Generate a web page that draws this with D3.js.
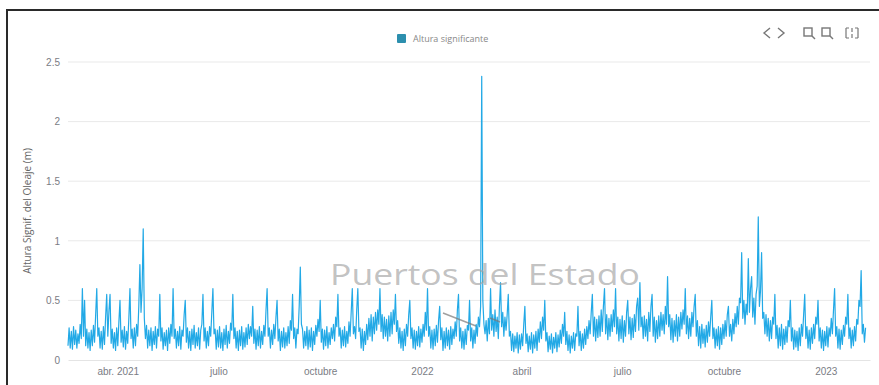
<!DOCTYPE html>
<html>
<head>
<meta charset="utf-8">
<script src="https://cdn.jsdelivr.net/npm/d3@7"></script>
<style>
  html, body { margin: 0; padding: 0; background: #fff; }
  svg { display: block; font-family: "Open Sans", "Noto Sans", sans-serif; }
</style>
</head>
<body>
<svg id="chart" width="879" height="385"></svg>
<script>
// Daily significant wave height (m), starting 15 Feb 2021
const seriesName = "Altura significante";
const startDate = new Date(2021, 1, 15);
const waveHeight = [
  0.12,0.27,0.1,0.24,0.09,0.28,0.13,0.25,0.1,0.22,
  0.14,0.3,0.18,0.6,0.2,0.5,0.12,0.26,0.1,0.23,
  0.08,0.25,0.12,0.29,0.15,0.38,0.6,0.2,0.27,0.1,
  0.24,0.09,0.28,0.13,0.36,0.55,0.2,0.41,0.55,0.14,
  0.26,0.1,0.23,0.08,0.27,0.12,0.32,0.5,0.15,0.25,
  0.11,0.28,0.09,0.24,0.14,0.35,0.6,0.18,0.26,0.1,
  0.27,0.12,0.3,0.2,0.45,0.8,0.4,0.6,1.1,0.35,
  0.18,0.29,0.1,0.25,0.12,0.27,0.08,0.24,0.13,0.28,
  0.1,0.26,0.2,0.55,0.16,0.27,0.09,0.23,0.12,0.25,
  0.08,0.27,0.14,0.3,0.2,0.6,0.18,0.26,0.1,0.24,
  0.12,0.28,0.09,0.25,0.2,0.38,0.5,0.15,0.27,0.1,
  0.24,0.08,0.26,0.13,0.29,0.1,0.23,0.12,0.27,0.09,
  0.25,0.3,0.55,0.16,0.27,0.1,0.24,0.12,0.28,0.2,
  0.4,0.6,0.22,0.26,0.09,0.25,0.11,0.28,0.1,0.23,
  0.08,0.26,0.13,0.29,0.1,0.24,0.14,0.31,0.25,0.55,
  0.18,0.27,0.1,0.24,0.08,0.25,0.12,0.28,0.09,0.23,
  0.11,0.27,0.13,0.3,0.18,0.28,0.2,0.45,0.14,0.26,
  0.09,0.25,0.12,0.28,0.1,0.24,0.13,0.29,0.2,0.42,
  0.6,0.2,0.27,0.1,0.25,0.13,0.3,0.18,0.36,0.5,
  0.16,0.26,0.08,0.24,0.11,0.27,0.1,0.23,0.12,0.28,
  0.14,0.33,0.25,0.55,0.18,0.27,0.1,0.26,0.22,0.45,
  0.78,0.3,0.26,0.1,0.24,0.12,0.28,0.09,0.25,0.11,
  0.27,0.08,0.24,0.13,0.29,0.2,0.34,0.24,0.5,0.15,
  0.26,0.09,0.25,0.12,0.28,0.1,0.23,0.13,0.27,0.18,
  0.3,0.16,0.36,0.28,0.55,0.2,0.27,0.1,0.25,0.12,
  0.28,0.11,0.24,0.14,0.32,0.2,0.4,0.6,0.22,0.28,
  0.18,0.42,0.6,0.24,0.27,0.1,0.26,0.08,0.24,0.13,
  0.3,0.17,0.35,0.2,0.38,0.16,0.36,0.22,0.4,0.25,
  0.42,0.3,0.6,0.24,0.38,0.18,0.36,0.2,0.34,0.16,
  0.37,0.2,0.4,0.22,0.42,0.3,0.55,0.24,0.33,0.14,
  0.27,0.1,0.24,0.08,0.26,0.12,0.3,0.2,0.38,0.5,
  0.18,0.27,0.1,0.25,0.09,0.24,0.12,0.28,0.11,0.26,
  0.15,0.3,0.2,0.4,0.25,0.6,0.2,0.28,0.1,0.25,
  0.09,0.26,0.12,0.29,0.15,0.33,0.45,0.17,0.27,0.08,
  0.24,0.1,0.27,0.12,0.25,0.09,0.28,0.13,0.26,0.18,
  0.32,0.2,0.42,0.55,0.16,0.27,0.1,0.24,0.09,0.26,
  0.13,0.29,0.25,0.5,0.16,0.27,0.1,0.25,0.14,0.3,
  0.2,0.36,0.28,0.45,2.38,0.5,0.3,0.22,0.33,0.16,
  0.35,0.22,0.6,0.25,0.38,0.2,0.42,0.24,0.36,0.18,
  0.45,0.65,0.28,0.4,0.2,0.36,0.25,0.38,0.55,0.2,
  0.24,0.08,0.22,0.07,0.2,0.1,0.23,0.06,0.21,0.09,
  0.22,0.12,0.3,0.45,0.14,0.22,0.07,0.2,0.09,0.23,
  0.06,0.21,0.1,0.24,0.08,0.26,0.15,0.32,0.18,0.36,
  0.25,0.5,0.16,0.23,0.07,0.2,0.09,0.22,0.06,0.19,
  0.1,0.23,0.07,0.21,0.11,0.25,0.14,0.3,0.2,0.4,
  0.13,0.24,0.08,0.21,0.06,0.2,0.1,0.23,0.08,0.22,
  0.2,0.45,0.12,0.24,0.08,0.22,0.1,0.26,0.13,0.28,
  0.18,0.33,0.22,0.4,0.55,0.2,0.36,0.16,0.34,0.19,
  0.37,0.2,0.42,0.24,0.45,0.6,0.22,0.38,0.17,0.35,
  0.2,0.38,0.24,0.42,0.28,0.6,0.22,0.36,0.16,0.34,
  0.18,0.37,0.15,0.33,0.2,0.4,0.5,0.22,0.36,0.17,
  0.35,0.19,0.38,0.24,0.45,0.52,0.25,0.65,0.28,0.36,
  0.18,0.37,0.2,0.34,0.16,0.4,0.24,0.45,0.55,0.2,
  0.36,0.15,0.33,0.18,0.37,0.2,0.4,0.25,0.38,0.22,
  0.45,0.3,0.7,0.28,0.38,0.17,0.35,0.15,0.33,0.2,
  0.38,0.16,0.36,0.2,0.4,0.26,0.42,0.3,0.6,0.22,
  0.37,0.18,0.35,0.2,0.4,0.28,0.45,0.55,0.2,0.33,
  0.12,0.28,0.1,0.3,0.14,0.26,0.11,0.29,0.15,0.32,
  0.2,0.36,0.5,0.18,0.27,0.1,0.26,0.12,0.28,0.09,
  0.27,0.13,0.3,0.18,0.33,0.2,0.38,0.45,0.2,0.3,
  0.16,0.34,0.22,0.39,0.28,0.45,0.3,0.52,0.48,0.9,
  0.35,0.5,0.3,0.47,0.38,0.85,0.4,0.6,0.7,0.36,
  0.52,0.3,0.55,0.62,1.2,0.45,0.58,0.9,0.35,0.4,
  0.22,0.38,0.2,0.35,0.16,0.33,0.18,0.36,0.3,0.55,
  0.18,0.29,0.1,0.27,0.12,0.3,0.09,0.26,0.13,0.28,
  0.15,0.33,0.28,0.5,0.16,0.27,0.09,0.25,0.11,0.24,
  0.08,0.27,0.12,0.3,0.2,0.38,0.55,0.18,0.28,0.1,
  0.25,0.09,0.27,0.14,0.3,0.18,0.36,0.3,0.5,0.16,
  0.27,0.1,0.25,0.08,0.24,0.12,0.28,0.11,0.27,0.2,
  0.35,0.22,0.42,0.6,0.2,0.28,0.1,0.26,0.09,0.25,
  0.13,0.29,0.2,0.36,0.3,0.55,0.18,0.27,0.1,0.25,
  0.12,0.28,0.16,0.34,0.3,0.5,0.45,0.75,0.22,0.3,
  0.15,0.27
];

// Axis ticks
const xTickDates = [
  new Date(2021, 3, 1), new Date(2021, 6, 1), new Date(2021, 9, 1), new Date(2022, 0, 1),
  new Date(2022, 3, 1), new Date(2022, 6, 1), new Date(2022, 9, 1), new Date(2023, 0, 1)
];
const xTickLabels = ["abr. 2021", "julio", "octubre", "2022", "abril", "julio", "octubre", "2023"];
const yTicks = [0, 0.5, 1, 1.5, 2, 2.5];
const yTickLabels = ["0", "0.5", "1", "1.5", "2", "2.5"];
const yTitle = "Altura Signif. del Oleaje (m)";
const watermark = "Puertos del Estado";

const svg = d3.select("#chart");
const plot = { left: 68, right: 870, top: 62, bottom: 360 };

const x = d3.scaleTime()
  .domain([new Date(2021, 1, 15), new Date(2023, 1, 10)])
  .range([plot.left, plot.right]);
const y = d3.scaleLinear().domain([0, 2.5]).range([plot.bottom, plot.top]);

const points = waveHeight.map((v, i) => ({ date: d3.timeDay.offset(startDate, i), value: v }));

// Outer frame
svg.append("rect")
  .attr("x", 7).attr("y", 10).attr("width", 900).attr("height", 400)
  .attr("fill", "none").attr("stroke", "#2a2a2a").attr("stroke-width", 2);

// Horizontal grid
svg.append("g").selectAll("line")
  .data(yTicks.filter(t => t > 0))
  .join("line")
  .attr("x1", plot.left).attr("x2", plot.right)
  .attr("y1", d => y(d)).attr("y2", d => y(d))
  .attr("stroke", "#e9e9e9").attr("stroke-width", 1);

// Y axis
const yAxis = svg.append("g")
  .attr("transform", `translate(${plot.left},0)`)
  .call(d3.axisLeft(y).tickValues(yTicks).tickSize(0).tickPadding(8)
    .tickFormat((d, i) => yTickLabels[i]));
yAxis.select(".domain").remove();
yAxis.selectAll("text").attr("fill", "#7a7c84").style("font-size", "10px");

// X axis
const xAxis = svg.append("g")
  .attr("transform", `translate(0,${plot.bottom})`)
  .call(d3.axisBottom(x).tickValues(xTickDates).tickSize(0).tickPadding(8)
    .tickFormat((d, i) => xTickLabels[i]));
xAxis.select(".domain").attr("stroke", "#e4e4e4");
xAxis.selectAll("text").attr("fill", "#7a7c84").style("font-size", "10px");

// Y axis title
svg.append("text")
  .attr("transform", `translate(31,${(plot.top + plot.bottom) / 2}) rotate(-90)`)
  .attr("text-anchor", "middle")
  .attr("fill", "#666").style("font-size", "10px")
  .text(yTitle);

// Series line
const line = d3.line().x(d => x(d.date)).y(d => y(d.value));
svg.append("path")
  .datum(points)
  .attr("fill", "none")
  .attr("stroke", "#22a9e6")
  .attr("stroke-width", 1.2)
  .attr("stroke-linejoin", "round")
  .attr("d", line);

// Watermark
svg.append("text")
  .attr("x", 330).attr("y", 285)
  .attr("textLength", 310).attr("lengthAdjust", "spacingAndGlyphs")
  .attr("fill", "#a0a0a0").attr("fill-opacity", 0.65)
  .style("font-size", "30px")
  .text(watermark);
svg.append("path")
  .attr("d", "M443,313 L476,326 M490,318 L500,322")
  .attr("stroke", "#777").attr("stroke-width", 1.5).attr("fill", "none").attr("opacity", 0.7);

// Legend
svg.append("rect").attr("x", 397).attr("y", 34).attr("width", 9).attr("height", 9)
  .attr("rx", 1).attr("fill", "#2c8fae");
svg.append("text").attr("x", 413).attr("y", 42)
  .attr("fill", "#888").style("font-size", "9px").text(seriesName);

// Toolbox icons
const tb = svg.append("g").attr("fill", "none").attr("stroke", "#777").attr("stroke-width", 1.4);
tb.append("path").attr("d", "M770,28 L764,33 L770,38 M778,28 L784,33 L778,38");
tb.append("rect").attr("x", 804).attr("y", 28).attr("width", 8).attr("height", 8);
tb.append("path").attr("d", "M812,36 L815,39");
tb.append("rect").attr("x", 822).attr("y", 28).attr("width", 8).attr("height", 8);
tb.append("path").attr("d", "M830,36 L833,39");
tb.append("path").attr("d", "M846,28 L846,38 M852,28 L852,32 M852,34 L852,38 M858,28 L858,38 M846,28 L849,28 M855,28 L858,28 M846,38 L849,38 M855,38 L858,38")
  .attr("stroke-width", 1.2);
</script>
</body>
</html>
